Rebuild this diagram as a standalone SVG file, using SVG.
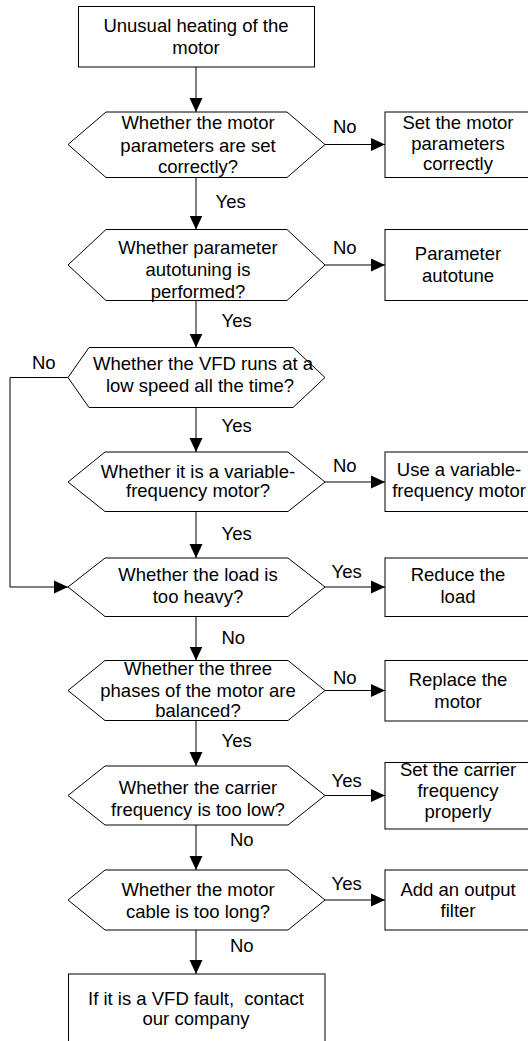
<svg xmlns="http://www.w3.org/2000/svg" width="528" height="1041" viewBox="0 0 528 1041">
<defs>
<style>
.s{fill:#fff;stroke:#000;stroke-width:1}
.t{font-family:"Liberation Sans",Arial,sans-serif;font-size:18.5px;fill:#000;text-anchor:middle}
.l{font-family:"Liberation Sans",Arial,sans-serif;font-size:18.5px;fill:#000}
.c{fill:none;stroke:#000;stroke-width:1}
</style>
<marker id="ah" viewBox="0 0 14 14" refX="14" refY="7" markerWidth="14" markerHeight="14" orient="auto" markerUnits="userSpaceOnUse">
<path d="M0,0.5 L14,7 L0,13.5 z" fill="#000"/>
</marker>
</defs>
<rect width="528" height="1041" fill="#fff"/>
<g id="connectors">
<line class="c" x1="196" y1="67" x2="196" y2="112" marker-end="url(#ah)"/>
<line class="c" x1="325" y1="144.5" x2="385" y2="144.5" marker-end="url(#ah)"/>
<line class="c" x1="196" y1="177.5" x2="196" y2="229.5" marker-end="url(#ah)"/>
<line class="c" x1="325" y1="265" x2="385" y2="265" marker-end="url(#ah)"/>
<line class="c" x1="196" y1="300.5" x2="196" y2="347.5" marker-end="url(#ah)"/>
<polyline class="c" points="68,377.5 10,377.5 10,587 68,587" marker-end="url(#ah)"/>
<line class="c" x1="196" y1="407.5" x2="196" y2="452" marker-end="url(#ah)"/>
<line class="c" x1="325" y1="482" x2="385" y2="482" marker-end="url(#ah)"/>
<line class="c" x1="196" y1="511.5" x2="196" y2="558" marker-end="url(#ah)"/>
<line class="c" x1="325" y1="587" x2="385" y2="587" marker-end="url(#ah)"/>
<line class="c" x1="196" y1="616.5" x2="196" y2="660.5" marker-end="url(#ah)"/>
<line class="c" x1="325" y1="690.5" x2="385" y2="690.5" marker-end="url(#ah)"/>
<line class="c" x1="196" y1="720.5" x2="196" y2="766" marker-end="url(#ah)"/>
<line class="c" x1="325" y1="795.5" x2="385" y2="795.5" marker-end="url(#ah)"/>
<line class="c" x1="196" y1="825" x2="196" y2="870" marker-end="url(#ah)"/>
<line class="c" x1="325" y1="900" x2="385" y2="900" marker-end="url(#ah)"/>
<line class="c" x1="196" y1="930" x2="196" y2="974" marker-end="url(#ah)"/>
<text class="l" x="333" y="132.5">No</text>
<text class="l" x="215.5" y="208">Yes</text>
<text class="l" x="333" y="254">No</text>
<text class="l" x="221.5" y="326.5">Yes</text>
<text class="l" x="32" y="368.5">No</text>
<text class="l" x="221.5" y="432">Yes</text>
<text class="l" x="333" y="471.5">No</text>
<text class="l" x="221.5" y="540">Yes</text>
<text class="l" x="331.5" y="577.5">Yes</text>
<text class="l" x="221.5" y="643.5">No</text>
<text class="l" x="333" y="683.5">No</text>
<text class="l" x="221.5" y="747">Yes</text>
<text class="l" x="331.5" y="787">Yes</text>
<text class="l" x="230" y="845.5">No</text>
<text class="l" x="331.5" y="890">Yes</text>
<text class="l" x="230" y="951.5">No</text>
</g>
<g id="start">
<rect class="s" x="78.5" y="6.5" width="236" height="60.5"/>
<text class="t" x="196" y="31.5">Unusual heating of the</text>
<text class="t" x="196" y="54">motor</text>
</g>
<g id="q1">
<polygon class="s" points="68,144.5 106,112 287,112 325,144.5 287,177.5 106,177.5"/>
<text class="t" x="198" y="129">Whether the motor</text>
<text class="t" x="198" y="151.5">parameters are set</text>
<text class="t" x="198" y="173">correctly?</text>
</g>
<g id="a1">
<rect class="s" x="385" y="112" width="145" height="65.5"/>
<text class="t" x="458" y="128.5">Set the motor</text>
<text class="t" x="458" y="149.5">parameters</text>
<text class="t" x="458" y="169.5">correctly</text>
</g>
<g id="q2">
<polygon class="s" points="68,265 106,229.5 287,229.5 325,265 287,300.5 106,300.5"/>
<text class="t" x="198" y="254">Whether parameter</text>
<text class="t" x="198" y="275.5">autotuning is</text>
<text class="t" x="198" y="297.5">performed?</text>
</g>
<g id="a2">
<rect class="s" x="385" y="229.5" width="145" height="71"/>
<text class="t" x="458" y="259.5">Parameter</text>
<text class="t" x="458" y="281.5">autotune</text>
</g>
<g id="q3">
<polygon class="s" points="68,377.5 89,347.5 293,347.5 325,377.5 293,407.5 89,407.5"/>
<text class="t" x="203" y="370">Whether the VFD runs at a</text>
<text class="t" x="200" y="391.5">low speed all the time?</text>
</g>
<g id="q4">
<polygon class="s" points="68,482 105,452 288,452 325,482 288,511.5 105,511.5"/>
<text class="t" x="198" y="477.5">Whether it is a variable-</text>
<text class="t" x="198" y="497">frequency motor?</text>
</g>
<g id="a4">
<rect class="s" x="385" y="452" width="145" height="59.5"/>
<text class="t" x="459" y="475.5">Use a variable-</text>
<text class="t" x="459" y="496.5">frequency motor</text>
</g>
<g id="q5">
<polygon class="s" points="68,587 105,558 288,558 325,587 288,616.5 105,616.5"/>
<text class="t" x="198" y="581">Whether the load is</text>
<text class="t" x="198" y="603">too heavy?</text>
</g>
<g id="a5">
<rect class="s" x="385" y="558" width="145" height="58.5"/>
<text class="t" x="458" y="581">Reduce the</text>
<text class="t" x="458" y="603">load</text>
</g>
<g id="q6">
<polygon class="s" points="68,690.5 105,660.5 288,660.5 325,690.5 288,720.5 105,720.5"/>
<text class="t" x="198" y="675">Whether the three</text>
<text class="t" x="198" y="696.5">phases of the motor are</text>
<text class="t" x="198" y="716.5">balanced?</text>
</g>
<g id="a6">
<rect class="s" x="385" y="660.5" width="145" height="60.5"/>
<text class="t" x="458" y="686">Replace the</text>
<text class="t" x="458" y="708">motor</text>
</g>
<g id="q7">
<polygon class="s" points="68,795.5 105,766 288,766 325,795.5 288,825 105,825"/>
<text class="t" x="198" y="794">Whether the carrier</text>
<text class="t" x="198" y="816">frequency is too low?</text>
</g>
<g id="a7">
<rect class="s" x="385" y="762.5" width="145" height="66.5"/>
<text class="t" x="458" y="776">Set the carrier</text>
<text class="t" x="458" y="797">frequency</text>
<text class="t" x="458" y="817.5">properly</text>
</g>
<g id="q8">
<polygon class="s" points="68,900 105,870 288,870 325,900 288,930 105,930"/>
<text class="t" x="198" y="896">Whether the motor</text>
<text class="t" x="198" y="918">cable is too long?</text>
</g>
<g id="a8">
<rect class="s" x="385" y="870" width="145" height="60"/>
<text class="t" x="458" y="896">Add an output</text>
<text class="t" x="458" y="917">filter</text>
</g>
<g id="end">
<rect class="s" x="68.5" y="974" width="256.5" height="80"/>
<text class="t" x="196" y="1005" style="white-space:pre">If it is a VFD fault,  contact</text>
<text class="t" x="196" y="1025">our company</text>
</g>
</svg>
